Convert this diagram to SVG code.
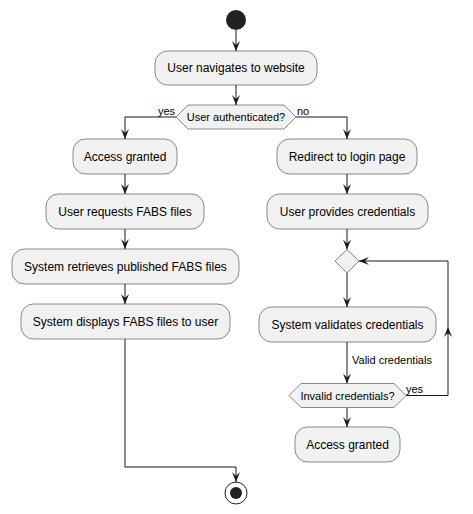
<svg xmlns="http://www.w3.org/2000/svg" width="473" height="514" viewBox="0 0 473 514">
<style>
.box{fill:#F1F1F1;stroke:#181818;stroke-width:0.5}
.t{font-family:"Liberation Sans",Arial,sans-serif;font-size:12px;fill:#000;text-anchor:middle}
.ts{font-family:"Liberation Sans",Arial,sans-serif;font-size:11px;fill:#000;text-anchor:middle}
.lbl{font-family:"Liberation Sans",Arial,sans-serif;font-size:11px;fill:#000}
.c{fill:none;stroke:#181818;stroke-width:1}
</style>
<defs>
<marker id="ah" markerUnits="userSpaceOnUse" viewBox="-11 -5 12 10" refX="0" refY="0" markerWidth="12" markerHeight="10" orient="auto">
<path d="M0,0 L-10,-4 L-6,0 L-10,4 Z" fill="#181818"/>
</marker>
</defs>
<rect width="473" height="514" fill="#FFFFFF"/>
<g id="connectors">
<path class="c" d="M236,30 L236,51" marker-end="url(#ah)"/>
<path class="c" d="M236,85 L236,105" marker-end="url(#ah)"/>
<path class="c" d="M176,117 L125,117 L125,139" marker-end="url(#ah)"/>
<path class="c" d="M296,117 L347,117 L347,139" marker-end="url(#ah)"/>
<path class="c" d="M125,174 L125,194" marker-end="url(#ah)"/>
<path class="c" d="M125,229 L125,249" marker-end="url(#ah)"/>
<path class="c" d="M125,284 L125,304" marker-end="url(#ah)"/>
<path class="c" d="M125,339 L125,467 L236,467 L236,482" marker-end="url(#ah)"/>
<path class="c" d="M347,174 L347,194" marker-end="url(#ah)"/>
<path class="c" d="M347,229 L347,249.5" marker-end="url(#ah)"/>
<path class="c" d="M347,273 L347,307" marker-end="url(#ah)"/>
<path class="c" d="M347,342 L347,383.5" marker-end="url(#ah)"/>
<path class="c" d="M347,407.5 L347,427" marker-end="url(#ah)"/>
<path class="c" d="M406,395.5 L448,395.5 L448,327" marker-end="url(#ah)"/>
<path class="c" d="M448,327 L448,261 L359,261" marker-end="url(#ah)"/>
<text class="lbl" x="158" y="115">yes</text>
<text class="lbl" x="297" y="115">no</text>
<text class="lbl" x="352" y="364">Valid credentials</text>
<text class="lbl" x="406" y="393">yes</text>
</g>
<g id="start"><circle cx="236" cy="20" r="10" fill="#222222"/></g>
<g id="n1"><rect class="box" x="155" y="51" width="162" height="34" rx="12.5"/><text class="t" x="236" y="72">User navigates to website</text></g>
<g id="d1"><polygon class="box" points="176,117 188,105 284,105 296,117 284,129 188,129"/><text class="ts" x="236" y="121">User authenticated?</text></g>
<g id="n2"><rect class="box" x="73" y="139" width="104" height="35" rx="12.5"/><text class="t" x="125" y="161">Access granted</text></g>
<g id="n3"><rect class="box" x="46" y="194" width="158" height="35" rx="12.5"/><text class="t" x="125" y="216">User requests FABS files</text></g>
<g id="n4"><rect class="box" x="12" y="249" width="227" height="35" rx="12.5"/><text class="t" x="125.5" y="271">System retrieves published FABS files</text></g>
<g id="n5"><rect class="box" x="21" y="304" width="209" height="35" rx="12.5"/><text class="t" x="125.5" y="326">System displays FABS files to user</text></g>
<g id="n6"><rect class="box" x="277" y="139" width="140" height="35" rx="12.5"/><text class="t" x="347" y="161">Redirect to login page</text></g>
<g id="n7"><rect class="box" x="267" y="194" width="161" height="35" rx="12.5"/><text class="t" x="347.5" y="216">User provides credentials</text></g>
<g id="m1"><polygon class="box" points="347,249.5 359,261 347,273 335,261"/></g>
<g id="n8"><rect class="box" x="259" y="307" width="177" height="35" rx="12.5"/><text class="t" x="347.5" y="329">System validates credentials</text></g>
<g id="d2"><polygon class="box" points="289,395.5 301,383.5 394,383.5 406,395.5 394,407.5 301,407.5"/><text class="ts" x="347.5" y="399.5">Invalid credentials?</text></g>
<g id="n9"><rect class="box" x="295" y="427" width="105" height="35" rx="12.5"/><text class="t" x="347.5" y="449">Access granted</text></g>
<g id="end"><circle cx="236" cy="493" r="11" fill="none" stroke="#222222" stroke-width="1"/><circle cx="236" cy="493" r="6" fill="#222222"/></g>
</svg>
